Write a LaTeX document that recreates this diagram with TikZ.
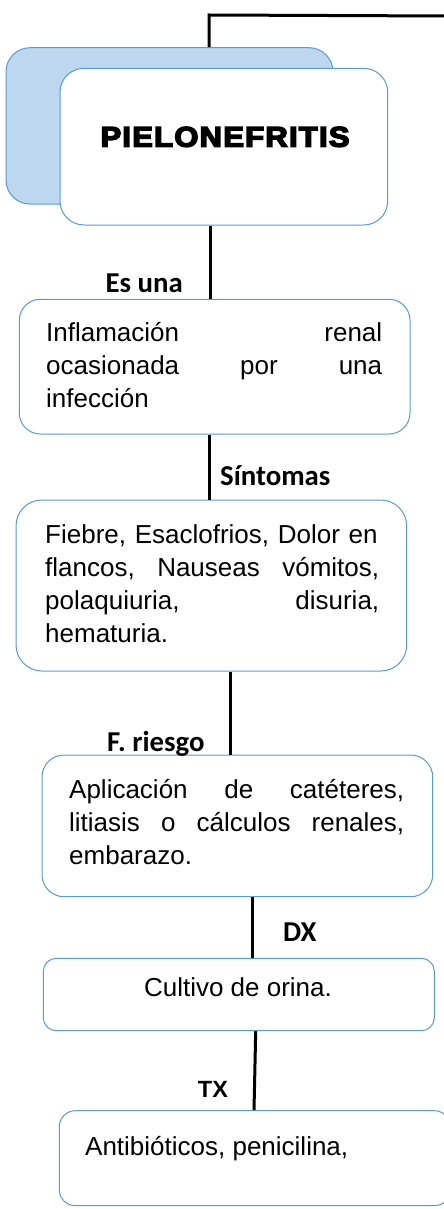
\documentclass[tikz,border=0pt]{standalone}
\usepackage{fontspec}
\usepackage{graphicx}
\setmainfont{Liberation Sans}
\newfontfamily\labelfont{Carlito}
\newfontfamily\heavyfont[UprightFont=* Bold,FakeBold=5,LetterSpace=4]{Liberation Sans}
\usetikzlibrary{calc}
\definecolor{boxline}{HTML}{5B9BD5}
\definecolor{boxfill}{HTML}{BDD7EE}
\begin{document}
\begin{tikzpicture}[x=1pt,y=-1pt,
  box/.style={draw=boxline, line width=1pt, fill=white, inner sep=0pt},
  conn/.style={line width=3pt, black},
  body/.style={inner sep=0pt, font=\fontsize{26}{33}\selectfont, text width=#1, anchor=base west},
  bodyline/.style={inner sep=0pt, font=\fontsize{26}{33}\selectfont},
  lbl/.style={inner sep=0pt, font=\labelfont\bfseries\fontsize{28.8}{30}\selectfont}]
\useasboundingbox (0,0) rectangle (444,1209);
\clip (0,0) rectangle (444,1209);
% boxes
\node[box, fill=boxfill, minimum width=327pt, minimum height=156.3pt, rounded corners=24pt] (back) at (169.5,125.85) {};
\node[box, minimum width=327.7pt, minimum height=156.7pt, rounded corners=24pt] (front) at (223.85,146.65) {};
\node[box, minimum width=390.7pt, minimum height=134.7pt, rounded corners=21pt] (b2) at (214.65,366.65) {};
\node[box, minimum width=390.7pt, minimum height=171pt, rounded corners=26pt] (b3) at (211.35,585.5) {};
\node[box, minimum width=390.7pt, minimum height=141.7pt, rounded corners=22pt] (b4) at (237.35,825.85) {};
\node[box, minimum width=391pt, minimum height=72.4pt, rounded corners=13pt] (b5) at (238.8,994.5) {};
\node[box, minimum width=391pt, minimum height=95pt, rounded corners=16pt] (b6) at (254.8,1158.2) {};
% connectors
\coordinate (tl) at (209,15);
\coordinate (tr) at (446,16);
\draw[conn] (back.north -| tl) -- (tl) -- (tr);
\coordinate (x1) at (210,0);
\draw[conn] (front.south -| x1) -- (b2.north -| x1);
\coordinate (x2) at (209,0);
\draw[conn] (b2.south -| x2) -- (b3.north -| x2);
\coordinate (x3) at (230,0);
\draw[conn] (b3.south -| x3) -- (b4.north -| x3);
\coordinate (x4) at (252,0);
\draw[conn] (b4.south -| x4) -- (b5.north -| x4);
\coordinate (x5t) at (255.7,0);
\coordinate (x5b) at (254,0);
\draw[conn] (b5.south -| x5t) -- (b6.north -| x5b);
% texts
\node[font=\heavyfont\fontsize{28.5}{30}\selectfont, inner sep=0pt, anchor=base] (title) at (225,146.7) {\resizebox{249pt}{\height}{PIELONEFRITIS}};
\node[body=336pt] (t2) at (46,341.7) {Inflamación\hfill renal\\ocasionada\hfill por\hfill una\\infección};
\node[body=334pt] (t3) at (45,543.3) {Fiebre, Esaclofrios, Dolor en\\flancos,\hfill Nauseas\hfill vómitos,\\polaquiuria,\hfill disuria,\\hematuria.};
\node[body=335pt] (t4) at (69,798) {Aplicación\hfill de\hfill catéteres,\\litiasis\hfill o\hfill cálculos\hfill renales,\\embarazo.};
\node[bodyline, anchor=base] (t5) at (238,996.7) {Cultivo de orina.};
\node[bodyline, anchor=base west] (t6) at (85,1155) {Antibióticos, penicilina,};
% labels
\node[lbl, anchor=base east] (l1) at (183,292.7) {Es una};
\node[lbl, anchor=base west] (l2) at (220,485) {Síntomas};
\node[lbl, anchor=base west] (l3) at (107,751.7) {F. riesgo};
\node[lbl, anchor=base west] (l4) at (283,941.7) {DX};
\node[inner sep=0pt, font=\bfseries\fontsize{23.5}{26}\selectfont, anchor=base west] (l5) at (197.7,1097.3) {TX};
\end{tikzpicture}
\end{document}
